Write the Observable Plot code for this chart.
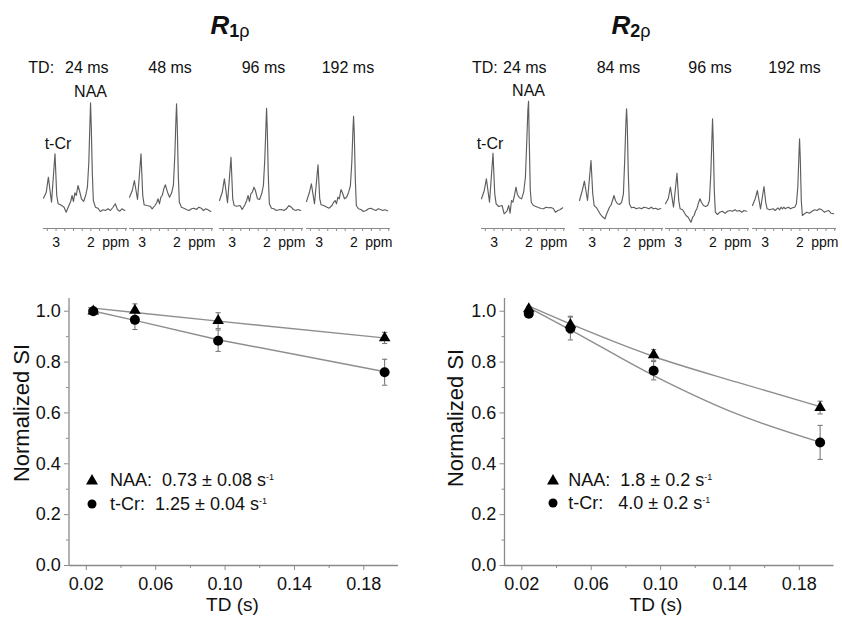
<!DOCTYPE html>
<html><head><meta charset="utf-8">
<script src="https://cdn.jsdelivr.net/npm/d3@7"></script>
<script src="https://cdn.jsdelivr.net/npm/@observablehq/plot@0.6"></script>
<style>
body{margin:0;background:#fff;}
#fig{position:relative;width:843px;height:618px;overflow:hidden;font-family:"Liberation Sans",Arial,sans-serif;color:#111;background:#fff;}
.abs{position:absolute;line-height:1;white-space:pre;}
</style></head><body><div id="fig"></div>
<script>
// ---------------- data ----------------
const tdSeconds = [0.024, 0.048, 0.096, 0.192];
const r1NAA    = [1.000, 1.003, 0.963, 0.895];
const r1NAAerr = [0.006, 0.026, 0.031, 0.022];
const r1Cr     = [1.000, 0.966, 0.884, 0.760];
const r1CrErr  = [0.006, 0.038, 0.042, 0.051];
const r2NAA    = [1.009, 0.947, 0.828, 0.621];
const r2NAAerr = [0.010, 0.033, 0.021, 0.025];
const r2Cr     = [0.990, 0.932, 0.766, 0.484];
const r2CrErr  = [0.010, 0.045, 0.036, 0.067];

const r1FitTD  = [0.0213, 0.048, 0.096, 0.1915];
const r1FitNAA = [1.014, 0.995, 0.961, 0.895];
const r1FitCr  = [1.005, 0.964, 0.888, 0.763];
const r2FitTD  = [0.0234, 0.048, 0.096, 0.144, 0.192];
const r2FitNAA = [1.022, 0.950, 0.822, 0.721, 0.625];
const r2FitCr  = [1.016, 0.927, 0.747, 0.596, 0.485];

const tdMajor = [0.02, 0.06, 0.10, 0.14, 0.18];
const tdMinor = [0.04, 0.08, 0.12, 0.16];
const siMajor = [0, 0.2, 0.4, 0.6, 0.8, 1.0];
const siMinor = [0.1, 0.3, 0.5, 0.7, 0.9];
const tdDomain = [0.01, 0.2];
const siDomain = [0, 1.05];

// spectra (ppm grid, intensity in arbitrary units)
const ppmGrid = [3.36, 3.28, 3.22, 3.13, 3.03, 2.98, 2.94, 2.87, 2.77, 2.71, 2.63, 2.58, 2.54, 2.50, 2.46, 2.42, 2.37, 2.33, 2.27, 2.21, 2.15, 2.10, 2.06, 2.03, 2.01, 1.99, 1.96, 1.93, 1.87, 1.80, 1.73, 1.65, 1.58, 1.51, 1.44, 1.37, 1.30, 1.24, 1.17, 1.11, 1.03];
const specR1_24  = [12.3, 18.3, 33.3, 8.3, 56.7, 15, 6.7, 5.7, 3.3, -1.7, 5, 9, 15, 9, 17.7, 15, 25, 20, 11.7, 9, 15, 23.3, 48.3, 85, 107.7, 85, 38.3, 10, 3.3, 2.3, -1, 0.7, 0, 1.7, 0, 3, 6.7, 1, -0.7, 1.7, 0];
const specR1_48  = [13.3, 20, 30, 11, 56.7, 15, 5.7, 5, 4.3, 1.7, 5, 7.7, 11.7, 6.7, 13.3, 15, 22.3, 25.7, 18.3, 13.3, 17.7, 25.7, 55, 88.3, 106.7, 85, 35, 8.3, 3.3, 2.3, 1, 0, 1.7, 2.3, 1, 3.3, 2.3, 0, 1.7, 0.7, -1];
const specR1_96  = [10, 18.3, 31.7, 7.7, 53.3, 11.7, 5, 4.3, 5, 1, 5.7, 10, 15, 9, 16.7, 18.3, 23.3, 20, 11.7, 11, 16.7, 25, 51.7, 81.7, 102.3, 81.7, 35, 6.7, 2.3, 1.7, 0, 0.7, 1, 0, 1.7, 5, 3.3, 1, 0, 1, 0];
const specR1_192 = [9, 17.7, 26.7, 6.7, 45.7, 11.7, 5.7, 5, 3.3, 2.3, 5, 8.3, 10, 6.7, 13.3, 11.7, 21, 17.7, 11.7, 13.3, 18.3, 25, 48.3, 78.3, 94.3, 78.3, 31.7, 5, 1.7, 1, -1, 0, 1.7, 2.3, 1, 0, 1.7, 1, 0, 0.7, -0.3];
const specR2_24  = [11.7, 20, 31.7, 8.3, 57.3, 16.7, 6.7, 4, 5, -3.3, -0.7, 5, -2.7, 10, 8.3, 14, 23.3, 16, 12.7, 11.7, 18.3, 33.3, 70, 100, 109.3, 70, 20, 8, 5, 4, 3, 2, 1.7, 3.3, 2.7, 3, 2, -1.7, 0, 0.7, 2.7];
const specR2_84  = [10, 20, 29.3, 10, 50, 16.7, 5, 2.7, -3.3, -6, -8.3, -3.3, 0, 3.3, 5, 9.3, 15, 10, 6.7, 6, 8.3, 16.7, 53.3, 86.7, 101.7, 86.7, 36.7, 6.7, 2.7, 3.3, 1.7, 2.7, 1.7, 3.3, 2.7, 1.7, 3.3, 1.7, 2.3, 1, 2];
const specR2_96  = [6.7, 12, 23.3, 3.3, 37.3, 10, 1.7, 0.7, -5, -6.7, -11.7, -6.7, -5, -0.7, 1.7, 6.7, 11.7, 8.3, 5, 4, 5, 10, 36.7, 70, 91.7, 70, 20, -1.7, -4, -1.7, -0.7, -2.7, -0.7, 0, -0.7, 0.7, -0.7, 0, -1.7, 0, -0.7];
const specR2_192 = [5, 12, 20, 1.7, 24, 8, 1.7, 0.7, 1.7, 0, 2.7, 0.7, 3.3, 1.7, 3.3, 1.7, 2.7, 3.3, 1.7, 2.7, 3.3, 6.7, 23.3, 53.3, 71.7, 53.3, 10, -5, -3.3, -1.7, -2.7, -0.7, 0.7, 0, 1.7, 0.7, -1.7, -0.7, 0, -2.7, -3.3];
const ppmDomain = [3.36, 0.95];
const specDomain = [-18, 120];
const ppmTicks = [3.25, 3.0, 2.75, 2.5, 2.25, 2.0, 1.75, 1.5, 1.25, 1.0];
const ppmLabelTicks = [3, 2];
const tdLabelsR1 = ["24 ms", "48 ms", "96 ms", "192 ms"];
const tdLabelsR2 = ["24 ms", "84 ms", "96 ms", "192 ms"];

// ---------------- styling / layout ----------------
const FONT = '"Liberation Sans", Arial, sans-serif';
const axisGray = "#8a8a8a", fitGray = "#8e8e8e", errGray = "#7a7a7a", specGray = "#5e5e5e";
const fig = document.getElementById("fig");

function place(el, left, top) {
  el.style.position = "absolute";
  el.style.left = left + "px";
  el.style.top = top + "px";
  el.style.overflow = "visible";
  el.style.maxWidth = "none";
  el.style.background = "transparent";
  fig.appendChild(el);
}
function addText(html, left, top, size, extra) {
  const d = document.createElement("div");
  d.className = "abs";
  d.style.left = left + "px";
  d.style.top = top + "px";
  d.style.fontSize = size + "px";
  if (extra) d.style.cssText += extra;
  d.innerHTML = html;
  fig.appendChild(d);
  return d;
}

const capSymbol = {draw(ctx, size) { const w = Math.sqrt(size / Math.PI); ctx.moveTo(-w, 0); ctx.lineTo(w, 0); }};

function scatter(nNAA, eNAA, nCr, eCr, fitTD, fitNAA, fitCr, curve, width, marginLeft, marginRight) {
  const naa = tdSeconds.map((x, i) => ({x, y: nNAA[i], e: eNAA[i]}));
  const cr = tdSeconds.map((x, i) => ({x, y: nCr[i], e: eCr[i]}));
  const fN = fitTD.map((x, i) => ({x, y: fitNAA[i]}));
  const fC = fitTD.map((x, i) => ({x, y: fitCr[i]}));
  const both = cr.concat(naa);
  return Plot.plot({
    width, height: 328, marginLeft, marginRight, marginTop: 8, marginBottom: 53,
    x: {domain: tdDomain, label: null},
    y: {domain: siDomain, label: null},
    style: {fontFamily: FONT, fontSize: "18px", color: "#111", background: "transparent", overflow: "visible"},
    marks: [
      Plot.ruleX([tdDomain[0]], {stroke: axisGray, strokeWidth: 1.3}),
      Plot.ruleY([siDomain[0]], {stroke: axisGray, strokeWidth: 1.3}),
      Plot.axisY({ticks: siMajor, tickSize: 4.5, tickPadding: 3.8, tickFormat: d3.format(".1f"), stroke: axisGray, fill: "#111", fontSize: 18, label: null}),
      Plot.axisY({ticks: siMinor, tickSize: 2.5, tickFormat: () => "", stroke: axisGray, label: null}),
      Plot.axisX({ticks: tdMajor, tickSize: 5, tickPadding: 7, tickFormat: d3.format(".2f"), stroke: axisGray, fill: "#111", fontSize: 18, label: null}),
      Plot.axisX({ticks: tdMinor, tickSize: 3, tickFormat: () => "", stroke: axisGray, label: null}),
      Plot.line(fN, {x: "x", y: "y", stroke: fitGray, strokeWidth: 1.4, curve}),
      Plot.line(fC, {x: "x", y: "y", stroke: fitGray, strokeWidth: 1.4, curve}),
      Plot.ruleX(both, {x: "x", y1: d => d.y - d.e, y2: d => d.y + d.e, stroke: errGray, strokeWidth: 1.1}),
      Plot.dot(both, {x: "x", y: d => d.y + d.e, symbol: capSymbol, r: 2.6, stroke: errGray, fill: "none", strokeWidth: 1.1}),
      Plot.dot(both, {x: "x", y: d => d.y - d.e, symbol: capSymbol, r: 2.6, stroke: errGray, fill: "none", strokeWidth: 1.1}),
      Plot.dot(cr, {x: "x", y: "y", symbol: "circle", r: 5, fill: "#000", stroke: "none"}),
      Plot.dot(naa, {x: "x", y: "y", symbol: "triangle", r: 4.3, fill: "#000", stroke: "none"})
    ]
  });
}

function spectrum(vals, labels, crDx) {
  const data = ppmGrid.map((p, i) => ({p, v: vals[i]}));
  const marks = [
    Plot.ruleY([specDomain[0]], {stroke: axisGray, strokeWidth: 1.2}),
    Plot.axisX({ticks: ppmTicks, tickSize: 3, tickFormat: () => "", stroke: axisGray, label: null}),
    Plot.axisX({ticks: ppmLabelTicks, tickSize: 0, tickPadding: 8.5, tickFormat: d => String(d), fill: "#111", fontSize: 14, label: null}),
    Plot.text(["ppm"], {frameAnchor: "bottom-right", dy: 8.5, dx: 2, lineAnchor: "top", textAnchor: "end", fontSize: 14, fill: "#111"}),
    Plot.line(data, {x: "p", y: "v", stroke: specGray, strokeWidth: 1.15})
  ];
  if (labels) {
    marks.push(Plot.text([data[24]], {x: "p", y: "v", text: () => "NAA", dy: -5.5, lineAnchor: "bottom", fontSize: 16, fill: "#111"}));
    marks.push(Plot.text([data[4]], {x: "p", y: "v", text: () => "t-Cr", dy: -4.5, dx: crDx, lineAnchor: "bottom", fontSize: 16, fill: "#111"}));
  }
  return Plot.plot({
    width: 92, height: 170, marginLeft: 4, marginRight: 4, marginTop: 0, marginBottom: 32,
    x: {domain: ppmDomain, label: null},
    y: {domain: specDomain, label: null, axis: null},
    style: {fontFamily: FONT, fontSize: "14px", color: "#111", background: "transparent", overflow: "visible"},
    marks
  });
}

// ---------------- spectra ----------------
const specLeftR1 = [38.5, 125.2, 214.5, 301.8];
const specLeftR2 = [476.8, 574.5, 661.2, 747.8];
[specR1_24, specR1_48, specR1_96, specR1_192].forEach((s, i) => place(spectrum(s, i === 0, 3), specLeftR1[i], 90));
[specR2_24, specR2_84, specR2_96, specR2_192].forEach((s, i) => place(spectrum(s, i === 0, -3), specLeftR2[i], 90));

// ---------------- scatter plots ----------------
place(scatter(r1NAA, r1NAAerr, r1Cr, r1CrErr, r1FitTD, r1FitNAA, r1FitCr, "linear", 420, 68.5, 22), 0, 290);
place(scatter(r2NAA, r2NAAerr, r2Cr, r2CrErr, r2FitTD, r2FitNAA, r2FitCr, "monotone-x", 423, 84, 9.5), 420, 290);

// ---------------- titles & labels ----------------
function title(sub, left) {
  addText('<span style="font-style:italic;font-weight:bold;font-size:26px">R</span><span style="font-size:18px;position:relative;top:3.5px"><b>' + sub + '</b>\u03c1</span>', left, 11.6, 26);
}
title("1", 210.5);
title("2", 611.5);

addText("TD:", 28.3, 59.6, 16);
addText("TD:", 472, 59.6, 16);
const tdLeftR1 = [65, 148.3, 241.7, 321.7];
const tdLeftR2 = [503, 596.7, 688.3, 768.3];
tdLabelsR1.forEach((t, i) => addText(t, tdLeftR1[i], 59.6, 16));
tdLabelsR2.forEach((t, i) => addText(t, tdLeftR2[i], 59.6, 16));

addText("TD (s)", 232.5, 594.5, 19, "transform:translateX(-50%);");
addText("TD (s)", 656, 594.5, 19, "transform:translateX(-50%);");
addText("Normalized SI", 22, 413, 22, "transform:translate(-50%,-50%) rotate(-90deg);");
addText("Normalized SI", 456, 418, 22, "transform:translate(-50%,-50%) rotate(-90deg);");

// legends
function legendSymbol(type, size, cx, cy) {
  const ns = "http://www.w3.org/2000/svg";
  const s = document.createElementNS(ns, "svg");
  s.setAttribute("width", 20); s.setAttribute("height", 20);
  s.style.position = "absolute"; s.style.left = (cx - 10) + "px"; s.style.top = (cy - 10) + "px";
  const p = document.createElementNS(ns, "path");
  p.setAttribute("d", d3.symbol(type, size)());
  p.setAttribute("transform", "translate(10,10)");
  p.setAttribute("fill", "#000");
  s.appendChild(p);
  fig.appendChild(s);
}
const sup = '<span style="font-size:9px;position:relative;top:-6px">-1</span>';
legendSymbol(d3.symbolTriangle, 62, 92, 481);
legendSymbol(d3.symbolCircle, 64, 92, 504);
addText("NAA:  0.73 \u00b1 0.08 s" + sup, 110, 471.2, 18);
addText("t-Cr:  1.25 \u00b1 0.04 s" + sup, 110, 495.2, 18);
legendSymbol(d3.symbolTriangle, 62, 552.7, 481);
legendSymbol(d3.symbolCircle, 64, 552.7, 503);
addText("NAA:  1.8 \u00b1 0.2 s" + sup, 568.3, 471.2, 18);
addText("t-Cr:   4.0 \u00b1 0.2 s" + sup, 568.3, 494.2, 18);
</script></body></html>
